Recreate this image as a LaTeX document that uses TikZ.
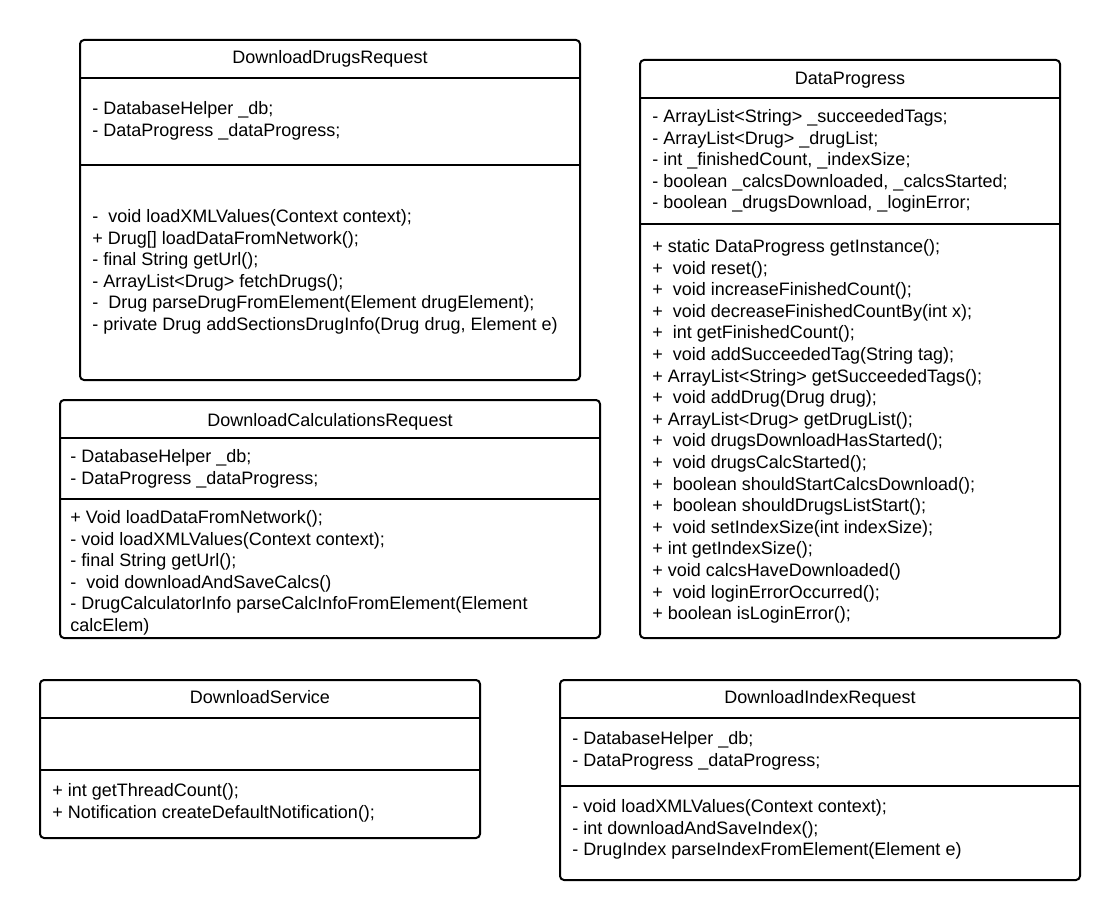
\documentclass[tikz,border=0pt]{standalone}
\usepackage{fontspec}
\setmainfont{Liberation Sans}
\usepackage{tikz}
\usetikzlibrary{positioning}
\tikzstyle{classbox} = [draw, line width=1pt, rounded corners=2pt]
\tikzstyle{divider}  = [draw, line width=1pt]
\tikzstyle{classname} = [inner sep=0pt, anchor=base, font=\fontsize{9}{10.8}\selectfont]
\tikzstyle{members}  = [inner sep=0pt, anchor=north west, align=left, font=\fontsize{9}{10.8}\selectfont]

\begin{document}
\begin{tikzpicture}[x=0.5pt, y=-0.5pt]
	\useasboundingbox (0,0) rectangle (1120,920);

	% DownloadDrugsRequest
	\draw [classbox] (80,40) rectangle (580,380);
	\draw [divider] (80,78) -- (580,78);
	\draw [divider] (80,165) -- (580,165);
	\node [classname] (DDRname) at (330,64) {DownloadDrugsRequest};
	\node [members] (DDRattr) at (92,101) {- DatabaseHelper \_db;\\- DataProgress \_dataProgress;};
	\node [members] (DDRmeth) at (92,209) {-~ void loadXMLValues(Context context);\\
		+ Drug[] loadDataFromNetwork();\\
		- final String getUrl();\\
		- ArrayList<Drug> fetchDrugs();\\
		-~ Drug parseDrugFromElement(Element drugElement);\\
		- private Drug addSectionsDrugInfo(Drug drug, Element e)};

	% DataProgress
	\draw [classbox] (640,60) rectangle (1060,638);
	\draw [divider] (640,98) -- (1060,98);
	\draw [divider] (640,224) -- (1060,224);
	\node [classname] (DPname) at (850,85) {DataProgress};
	\node [members] (DPattr) at (652,109) {- ArrayList<String> \_succeededTags;\\
		- ArrayList<Drug> \_drugList;\\
		- int \_finishedCount, \_indexSize;\\
		- boolean \_calcsDownloaded, \_calcsStarted;\\
		- boolean \_drugsDownload, \_loginError;};
	\node [members] (DPmeth) at (652,239) {+ static DataProgress getInstance();\\
		+~ void reset();\\
		+~ void increaseFinishedCount();\\
		+~ void decreaseFinishedCountBy(int x);\\
		+~ int getFinishedCount();\\
		+~ void addSucceededTag(String tag);\\
		+ ArrayList<String> getSucceededTags();\\
		+~ void addDrug(Drug drug);\\
		+ ArrayList<Drug> getDrugList();\\
		+~ void drugsDownloadHasStarted();\\
		+~ void drugsCalcStarted();\\
		+~ boolean shouldStartCalcsDownload();\\
		+~ boolean shouldDrugsListStart();\\
		+~ void setIndexSize(int indexSize);\\
		+ int getIndexSize();\\
		+ void calcsHaveDownloaded()\\
		+~ void loginErrorOccurred();\\
		+ boolean isLoginError();};

	% DownloadCalculationsRequest
	\draw [classbox] (60,400) rectangle (600,638);
	\draw [divider] (60,438) -- (600,438);
	\draw [divider] (60,499) -- (600,499);
	\node [classname] (DCRname) at (330,426) {DownloadCalculationsRequest};
	\node [members] (DCRattr) at (70,449) {- DatabaseHelper \_db;\\- DataProgress \_dataProgress;};
	\node [members] (DCRmeth) at (70,510) {+ Void loadDataFromNetwork();\\
		- void loadXMLValues(Context context);\\
		- final String getUrl();\\
		-~ void downloadAndSaveCalcs()\\
		- DrugCalculatorInfo parseCalcInfoFromElement(Element\\
		calcElem)};

	% DownloadService
	\draw [classbox] (40,680) rectangle (480,838);
	\draw [divider] (40,718) -- (480,718);
	\draw [divider] (40,770) -- (480,770);
	\node [classname] (DSname) at (260,703.5) {DownloadService};
	\node [members] (DSmeth) at (52,783) {+ int getThreadCount();\\+ Notification createDefaultNotification();};

	% DownloadIndexRequest
	\draw [classbox] (560,680) rectangle (1080,880);
	\draw [divider] (560,718) -- (1080,718);
	\draw [divider] (560,786) -- (1080,786);
	\node [classname] (DIRname) at (820,703.5) {DownloadIndexRequest};
	\node [members] (DIRattr) at (572,731) {- DatabaseHelper \_db;\\- DataProgress \_dataProgress;};
	\node [members] (DIRmeth) at (572,799) {- void loadXMLValues(Context context);\\
		- int downloadAndSaveIndex();\\
		- DrugIndex parseIndexFromElement(Element e)};
\end{tikzpicture}
\end{document}
